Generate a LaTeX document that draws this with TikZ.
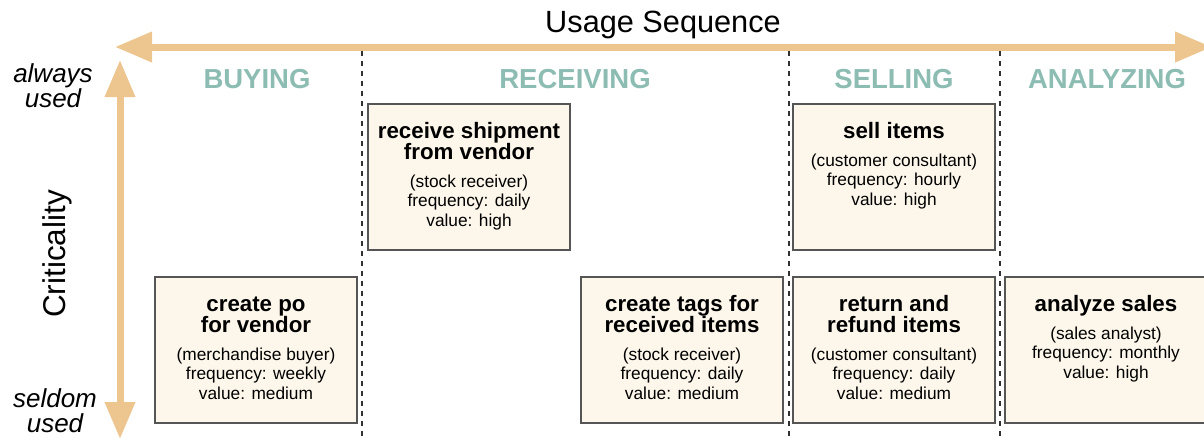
\documentclass[tikz,border=0pt]{standalone}
\usepackage{fontspec}
\setmainfont{Liberation Sans}
\usetikzlibrary{arrows.meta}

\definecolor{axistan}{RGB}{236,198,142}
\definecolor{phaseteal}{RGB}{140,188,178}
\definecolor{boxfill}{RGB}{253,247,235}
\definecolor{boxline}{RGB}{85,85,85}
\definecolor{divider}{RGB}{50,50,50}

\tikzset{
  bothaxis/.style={draw=axistan, line width=7pt,
    {Triangle[length=37pt,width=29pt]}-{Triangle[length=37pt,width=29pt]}},
  divline/.style={draw=divider, line width=1.8pt, dash pattern=on 5pt off 5pt},
  taskbox/.style={draw=boxline, fill=boxfill, line width=1.6pt,
    minimum width=202pt, minimum height=146pt, inner sep=0pt},
  tasktitle/.style={anchor=north, inner sep=0pt, align=center,
    font=\bfseries\fontsize{22.3}{21}\selectfont},
  taskbody/.style={anchor=north, inner sep=0pt, align=center,
    font=\fontsize{17.3}{19.5}\selectfont},
  phase/.style={anchor=base, text=phaseteal,
    font=\bfseries\fontsize{27.5}{30}\selectfont},
  axislabel/.style={anchor=base, font=\fontsize{30.7}{34}\selectfont},
  endlabel/.style={align=center, anchor=base, font=\itshape\fontsize{26}{25}\selectfont},
}

\begin{document}
\begin{tikzpicture}[x=1pt, y=-1pt]
\useasboundingbox (0,0) rectangle (1204,440);
\clip (0,0) rectangle (1204,440);

% axes
\coordinate (hl) at (115,47);
\coordinate (hr) at (1212,47);
\coordinate (vt) at (120,60);
\coordinate (vb) at (120,439);
\draw[bothaxis] (hl) -- (hr);
\draw[bothaxis] (vt) -- (vb);

\node[axislabel] (usage) at (663,32) {Usage Sequence};
\node[axislabel, rotate=90, font=\fontsize{31.5}{34}\selectfont] (crit) at (65,254) {Criticality};

% the base anchor of a two-line label sits on its last line
\node[endlabel] (always) at (53,107) {always\\used};
\node[endlabel] (seldom) at (55,432) {seldom\\used};

% phase dividers
\foreach \x/\n in {362/d1, 789/d2, 1000/d3}{
  \coordinate (\n top) at (\x,51);
  \coordinate (\n bot) at (\x,440);
  \draw[divline] (\n top) -- (\n bot);
}

% phase headings
\node[phase] (buying) at (257,88) {BUYING};
\node[phase] (receiving) at (575,88) {RECEIVING};
\node[phase] (selling) at (894,88) {SELLING};
\node[phase] (analyzing) at (1107,88) {ANALYZING};

% task boxes
\node[taskbox] (po) at (256,350) {};
\node[tasktitle] (poT) at ([yshift=-19pt]po.north) {\rule{0pt}{16.5pt}create po\\for vendor};
\node[taskbody] (poB) at ([yshift=-71pt]po.north) {\rule{0pt}{13pt}(merchandise buyer)\\frequency: weekly\\value: medium};

\node[taskbox] (ship) at (469,177) {};
\node[tasktitle] (shipT) at ([yshift=-19pt]ship.north) {\rule{0pt}{16.5pt}receive shipment\\from vendor};
\node[taskbody] (shipB) at ([yshift=-71pt]ship.north) {\rule{0pt}{13pt}(stock receiver)\\frequency: daily\\value: high};

\node[taskbox] (tags) at (682,350) {};
\node[tasktitle] (tagsT) at ([yshift=-19pt]tags.north) {\rule{0pt}{16.5pt}create tags for\\received items};
\node[taskbody] (tagsB) at ([yshift=-71pt]tags.north) {\rule{0pt}{13pt}(stock receiver)\\frequency: daily\\value: medium};

\node[taskbox] (sell) at (894,177) {};
\node[tasktitle] (sellT) at ([yshift=-19pt]sell.north) {\rule{0pt}{16.5pt}sell items};
\node[taskbody] (sellB) at ([yshift=-50pt]sell.north) {\rule{0pt}{13pt}(customer consultant)\\frequency: hourly\\value: high};

\node[taskbox] (refund) at (894,350) {};
\node[tasktitle] (refundT) at ([yshift=-19pt]refund.north) {\rule{0pt}{16.5pt}return and\\refund items};
\node[taskbody] (refundB) at ([yshift=-71pt]refund.north) {\rule{0pt}{13pt}(customer consultant)\\frequency: daily\\value: medium};

\node[taskbox] (sales) at (1106,350) {};
\node[tasktitle] (salesT) at ([yshift=-19pt]sales.north) {\rule{0pt}{16.5pt}analyze sales};
\node[taskbody] (salesB) at ([yshift=-50pt]sales.north) {\rule{0pt}{13pt}(sales analyst)\\frequency: monthly\\value: high};
\end{tikzpicture}
\end{document}
